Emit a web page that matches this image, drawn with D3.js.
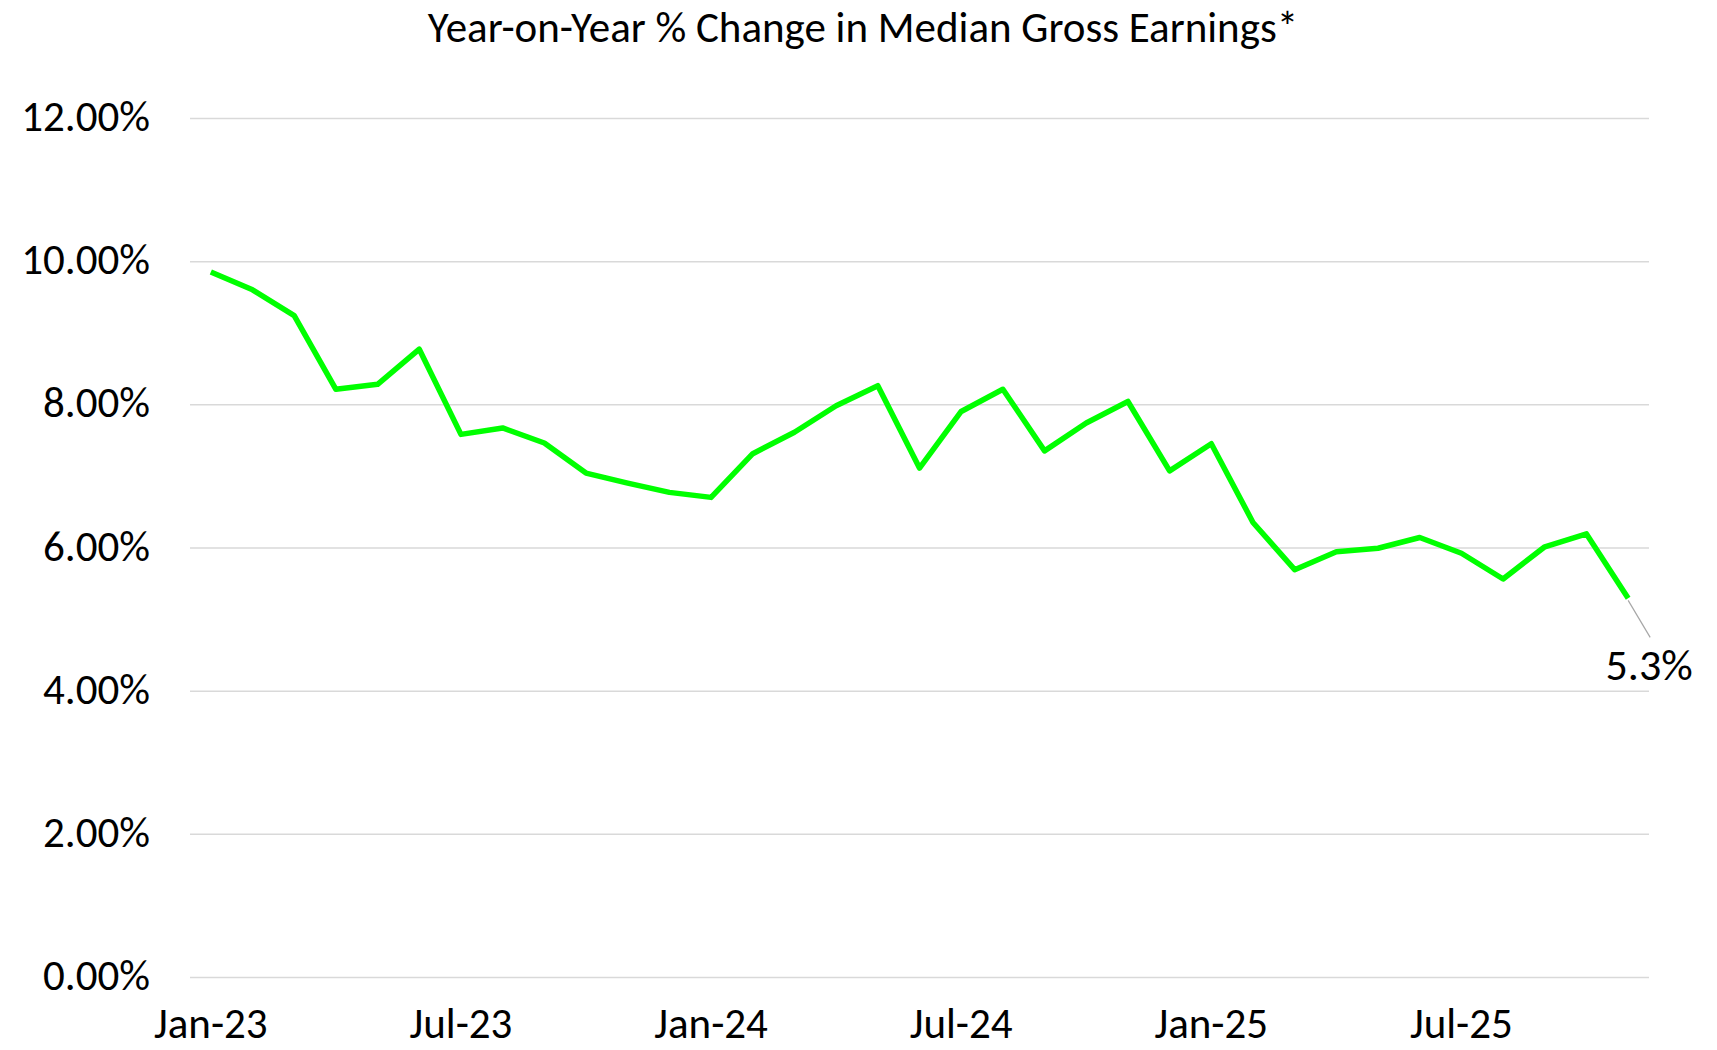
<!DOCTYPE html>
<html>
<head>
<meta charset="utf-8">
<script src="https://cdn.jsdelivr.net/npm/d3@7"></script>
<style>
  body { margin: 0; background: #fff; }
  text { font-family: Carlito, Calibri, "Liberation Sans", sans-serif; fill: #000; }
  .grid line { stroke: #d9d9d9; stroke-width: 1.5; }
  .grid .domain { display: none; }
  .line { fill: none; stroke: #00ff00; stroke-width: 5.5; stroke-linejoin: round; }
</style>
</head>
<body>
<div id="chart"></div>
<script>
// months Jan-23 .. Nov-25
var months = ["Jan-23","Feb-23","Mar-23","Apr-23","May-23","Jun-23","Jul-23","Aug-23","Sep-23","Oct-23","Nov-23","Dec-23",
              "Jan-24","Feb-24","Mar-24","Apr-24","May-24","Jun-24","Jul-24","Aug-24","Sep-24","Oct-24","Nov-24","Dec-24",
              "Jan-25","Feb-25","Mar-25","Apr-25","May-25","Jun-25","Jul-25","Aug-25","Sep-25","Oct-25","Nov-25"];

// year-on-year % change
var yoyChange = [9.85, 9.60, 9.24, 8.21, 8.28, 8.77, 7.58, 7.67, 7.46, 7.04, 6.90, 6.77,
                 6.70, 7.31, 7.61, 7.98, 8.26, 7.11, 7.90, 8.21, 7.35, 7.74, 8.04, 7.07,
                 7.45, 6.35, 5.69, 5.94, 5.99, 6.14, 5.92, 5.56, 6.01, 6.19, 5.29];

var xTickLabels = ["Jan-23","Jul-23","Jan-24","Jul-24","Jan-25","Jul-25"];
var yTicks = [0, 2, 4, 6, 8, 10, 12];
var lastLabel = "5.3%";
var title = "Year-on-Year % Change in Median Gross Earnings*";

var width = 1717, height = 1050;
var margin = {top: 118, right: 68, bottom: 73, left: 190};
var w = width - margin.left - margin.right;
var h = height - margin.top - margin.bottom;

var svg = d3.select("#chart").append("svg")
    .attr("width", width)
    .attr("height", height);

var g = svg.append("g")
    .attr("transform", "translate(" + margin.left + "," + margin.top + ")");

var x = d3.scalePoint().domain(months).range([0, w]).padding(0.5);
var y = d3.scaleLinear().domain([0, 12]).range([h, 0]);

// horizontal gridlines
g.append("g")
    .attr("class", "grid")
    .call(d3.axisLeft(y).tickValues(yTicks).tickSize(-w).tickFormat(""));

// y labels
g.selectAll(".ylab")
    .data(yTicks)
  .enter().append("text")
    .attr("class", "ylab")
    .attr("x", -40)
    .attr("y", function(d) { return y(d) + 13; })
    .attr("text-anchor", "end")
    .style("font-size", "43px")
    .text(function(d) { return d.toFixed(2) + "%"; });

// x labels
g.selectAll(".xlab")
    .data(xTickLabels)
  .enter().append("text")
    .attr("class", "xlab")
    .attr("x", function(d) { return x(d); })
    .attr("y", h + 61)
    .attr("text-anchor", "middle")
    .style("font-size", "43px")
    .text(function(d) { return d; });

var line = d3.line()
    .curve(d3.curveLinear)
    .x(function(d, i) { return x(months[i]); })
    .y(function(d) { return y(d); });

g.append("path")
    .datum(yoyChange)
    .attr("class", "line")
    .attr("d", line);

// data label on last point with leader line
var lastX = x(months[months.length - 1]);
var lastY = y(yoyChange[yoyChange.length - 1]);
g.append("line")
    .attr("x1", lastX).attr("y1", lastY + 2)
    .attr("x2", lastX + 22).attr("y2", lastY + 39)
    .attr("stroke", "#a6a6a6")
    .attr("stroke-width", 1.2);

g.append("text")
    .attr("x", lastX + 21)
    .attr("y", lastY + 82)
    .attr("text-anchor", "middle")
    .style("font-size", "44px")
    .text(lastLabel);

// title
svg.append("text")
    .attr("x", 863)
    .attr("y", 42)
    .attr("text-anchor", "middle")
    .style("font-size", "43px")
    .text(title);
</script>
</body>
</html>
